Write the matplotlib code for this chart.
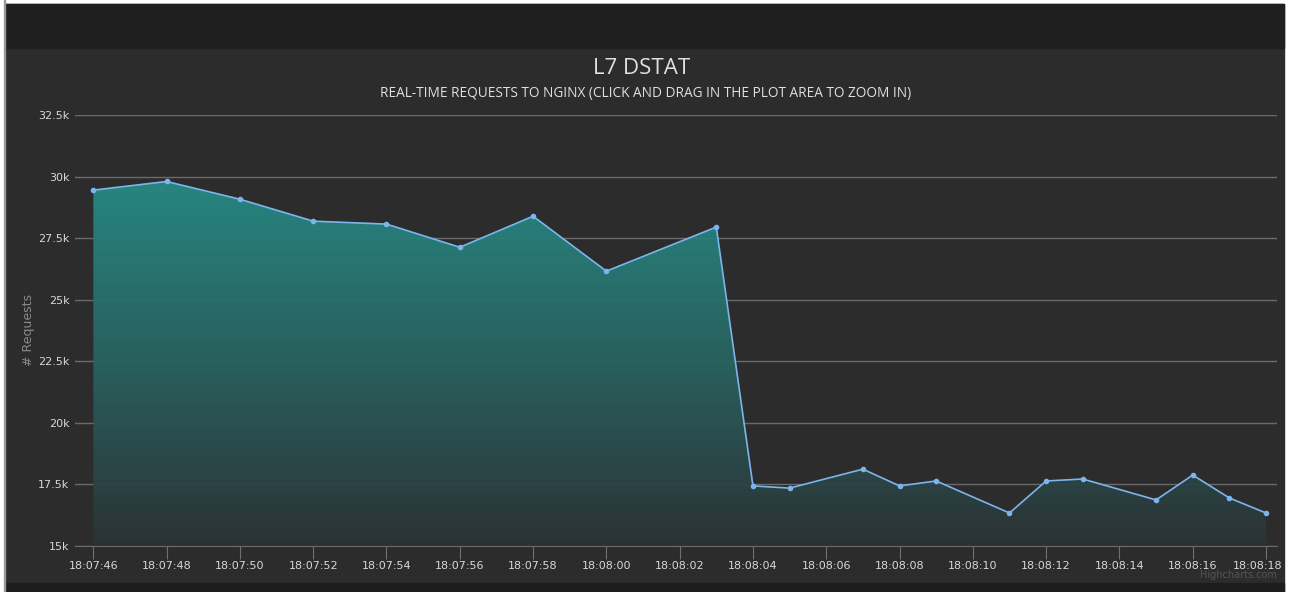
import matplotlib
matplotlib.use("Agg")
import matplotlib.pyplot as plt
import matplotlib.dates as mdates
import matplotlib.transforms as mtransforms
from matplotlib.colors import LinearSegmentedColormap
from matplotlib.patches import Rectangle, Polygon
import numpy as np
import datetime as dt

# data
times = ["18:07:46", "18:07:48", "18:07:50", "18:07:52", "18:07:54", "18:07:56",
         "18:07:58", "18:08:00", "18:08:03", "18:08:04", "18:08:05", "18:08:07",
         "18:08:08", "18:08:09", "18:08:11", "18:08:12", "18:08:13", "18:08:15",
         "18:08:16", "18:08:17", "18:08:18"]
requests = [29450, 29800, 29080, 28190, 28070, 27130, 28390, 26160, 27950,
            17440, 17350, 18120, 17440, 17640, 16340, 17640, 17720, 16870,
            17880, 16950, 16340]
yticks = [15000, 17500, 20000, 22500, 25000, 27500, 30000, 32500]
ytick_labels = ["15k", "17.5k", "20k", "22.5k", "25k", "27.5k", "30k", "32.5k"]

day = dt.date(2017, 1, 1)
x = [dt.datetime.combine(day, dt.datetime.strptime(t, "%H:%M:%S").time()) for t in times]
xn = mdates.date2num(x)

W, H = 1289, 592
fig = plt.figure(figsize=(W / 100, H / 100), dpi=100)
fig.patch.set_facecolor("#ffffff")

# chart background and frame bars (figure pixel coords)
def box(x0, y0, x1, y1, color):
    fig.patches.append(Rectangle((x0 / W, 1 - y1 / H), (x1 - x0) / W, (y1 - y0) / H,
                                 transform=fig.transFigure, color=color, zorder=-5))

box(5, 4, 1284, 592, "#2c2c2d")
box(5, 4, 1284, 48, "#1f1f1f")
box(5, 583, 1284, 592, "#1d1d1d")
box(4, 0, 5, 592, "#9a9a9a")

ax = fig.add_axes([75 / W, 1 - 546 / H, (1277 - 75) / W, (546 - 115) / H])
ax.set_facecolor("none")
ax.set_zorder(2)

ymin, ymax = 15000, 32500
x0 = mdates.date2num(dt.datetime.combine(day, dt.time(18, 7, 45, 500000)))
x1 = mdates.date2num(dt.datetime.combine(day, dt.time(18, 8, 18, 300000)))

# gradient fill under the line
cmap = LinearSegmentedColormap.from_list(
    "fade", [(0.0, (0.17, 0.20, 0.21)), (0.5, (0.16, 0.39, 0.38)), (1.0, (0.15, 0.55, 0.53))])
grad = np.linspace(0, 1, 256).reshape(-1, 1)
im = ax.imshow(grad, extent=[x0, x1, ymin, 29800], origin="lower", aspect="auto",
               cmap=cmap, zorder=1, alpha=0.93, interpolation="bicubic")
poly = Polygon(list(zip(xn, requests)) + [(xn[-1], ymin), (xn[0], ymin)],
               closed=True, facecolor="none", edgecolor="none", transform=ax.transData)
ax.add_patch(poly)
im.set_clip_path(poly)
ax.set_ylim(ymin, ymax)
ax.set_xlim(x0, x1)

ax.plot(xn, requests, color="#7cb5ec", lw=1.2, marker="o", ms=3, zorder=3)

ax.set_yticks(yticks)
ax.set_yticklabels(ytick_labels)
ax.grid(axis="y", color="#6a6a6c", lw=1)
ax.set_axisbelow(True)
for s in ["top", "right", "left"]:
    ax.spines[s].set_visible(False)
ax.spines["bottom"].set_color("#6a6a6c")

ticks = [mdates.date2num(dt.datetime.combine(day, dt.time(18, 7, 46)) + dt.timedelta(seconds=2 * i)) for i in range(17)]
ax.set_xticks(ticks)
ax.xaxis.set_major_formatter(mdates.DateFormatter("%H:%M:%S"))
ax.tick_params(axis="x", colors="#707073", labelcolor="#d8d8d8", labelsize=8, length=9, pad=2)
ax.tick_params(axis="y", length=0, labelcolor="#d8d8d8", labelsize=8, pad=4)
ax.set_ylabel("# Requests", color="#8a8a8a", fontsize=9, labelpad=2)

# keep the last time label inside the plot, as Highcharts does
fig.canvas.draw()
last = ax.get_xticklabels()[-1]
last.set_transform(last.get_transform() + mtransforms.ScaledTranslation(-8 / 100, 0, fig.dpi_scale_trans))

fig.text(642 / W, 1 - 68 / H, "L7 DSTAT", ha="center", va="center", color="#e0e0e3",
         fontsize=16, family=["Open Sans", "DejaVu Sans"])
fig.text(646 / W, 1 - 94 / H, "REAL-TIME REQUESTS TO NGINX (CLICK AND DRAG IN THE PLOT AREA TO ZOOM IN)",
         ha="center", va="center", color="#e0e0e3", fontsize=9.8, family=["Open Sans", "DejaVu Sans"])
fig.text(1277 / W, 1 - 575 / H, "Highcharts.com", ha="right", va="center", color="#555558", fontsize=7)

fig.savefig("out.png", dpi=100, facecolor=fig.get_facecolor())
